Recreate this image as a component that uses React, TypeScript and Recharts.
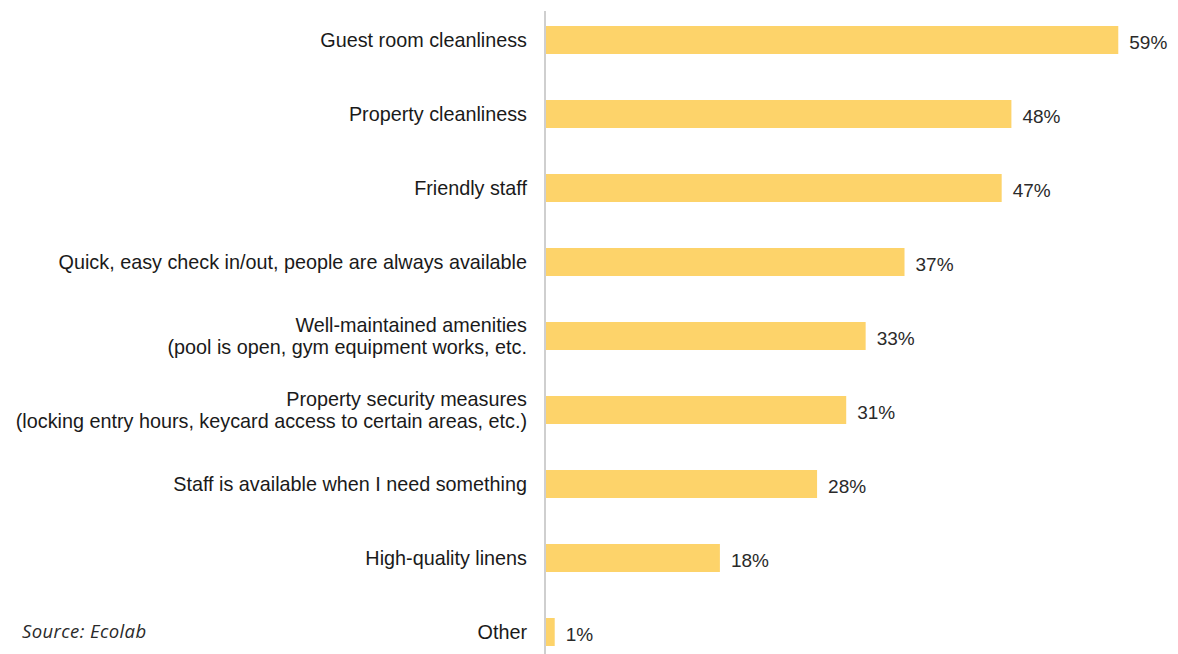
import { BarChart, Bar, XAxis, YAxis, LabelList } from "recharts";

const categories = [
  "Guest room cleanliness",
  "Property cleanliness",
  "Friendly staff",
  "Quick, easy check in/out, people are always available",
  "Well-maintained amenities\n(pool is open, gym equipment works, etc.",
  "Property security measures\n(locking entry hours, keycard access to certain areas, etc.)",
  "Staff is available when I need something",
  "High-quality linens",
  "Other",
];
const shares = [59, 48, 47, 37, 33, 31, 28, 18, 1];

const data = categories.map((name, i) => ({ name, value: shares[i] }));

const FONT = "'Liberation Sans', Arial, Helvetica, sans-serif";

function CategoryTick(props: any) {
  const { x, y, payload } = props;
  const lines = String(payload.value).split("\n");
  const lineH = 22;
  const start = -((lines.length - 1) * lineH) / 2;
  return (
    <text x={x} y={y} textAnchor="end" fill="#1a1a1a" fontSize={19.8} fontFamily={FONT}>
      {lines.map((l, i) => (
        <tspan key={i} x={x} dy={i === 0 ? start + 7 : lineH}>
          {l}
        </tspan>
      ))}
    </text>
  );
}

export default function App() {
  return (
    <div
      style={{
        position: "absolute",
        left: 0,
        top: 0,
        width: 1178,
        height: 654,
        overflow: "hidden",
        background: "#fff",
      }}
    >
      <BarChart
        width={1178}
        height={680}
        data={data}
        layout="vertical"
        margin={{ top: 3, right: 50, bottom: 11, left: 0 }}
        barCategoryGap={46}
      >
        <XAxis type="number" hide domain={[0, 60]} />
        <YAxis
          type="category"
          dataKey="name"
          width={545}
          tickLine={false}
          tickSize={0}
          tickMargin={18}
          axisLine={{ stroke: "#cfcfcf", strokeWidth: 2, strokeDasharray: "0 8 3000" }}
          tick={<CategoryTick />}
          interval={0}
        />
        <Bar dataKey="value" fill="#FDD36A" barSize={28} isAnimationActive={false}>
          <LabelList
            dataKey="value"
            position="right"
            offset={11}
            formatter={(v: any) => `${v}%`}
            style={{ fill: "#2a2a2a", fontSize: 19, fontFamily: FONT }}
            dy={2}
          />
        </Bar>
      </BarChart>
      <div
        style={{
          position: "absolute",
          left: 22,
          top: 618,
          fontFamily: "'Open Sans', Lato, sans-serif",
          fontStyle: "italic",
          fontSize: 18.5,
          letterSpacing: 0.4,
          color: "#2a2a2a",
        }}
      >
        Source: Ecolab
      </div>
    </div>
  );
}
